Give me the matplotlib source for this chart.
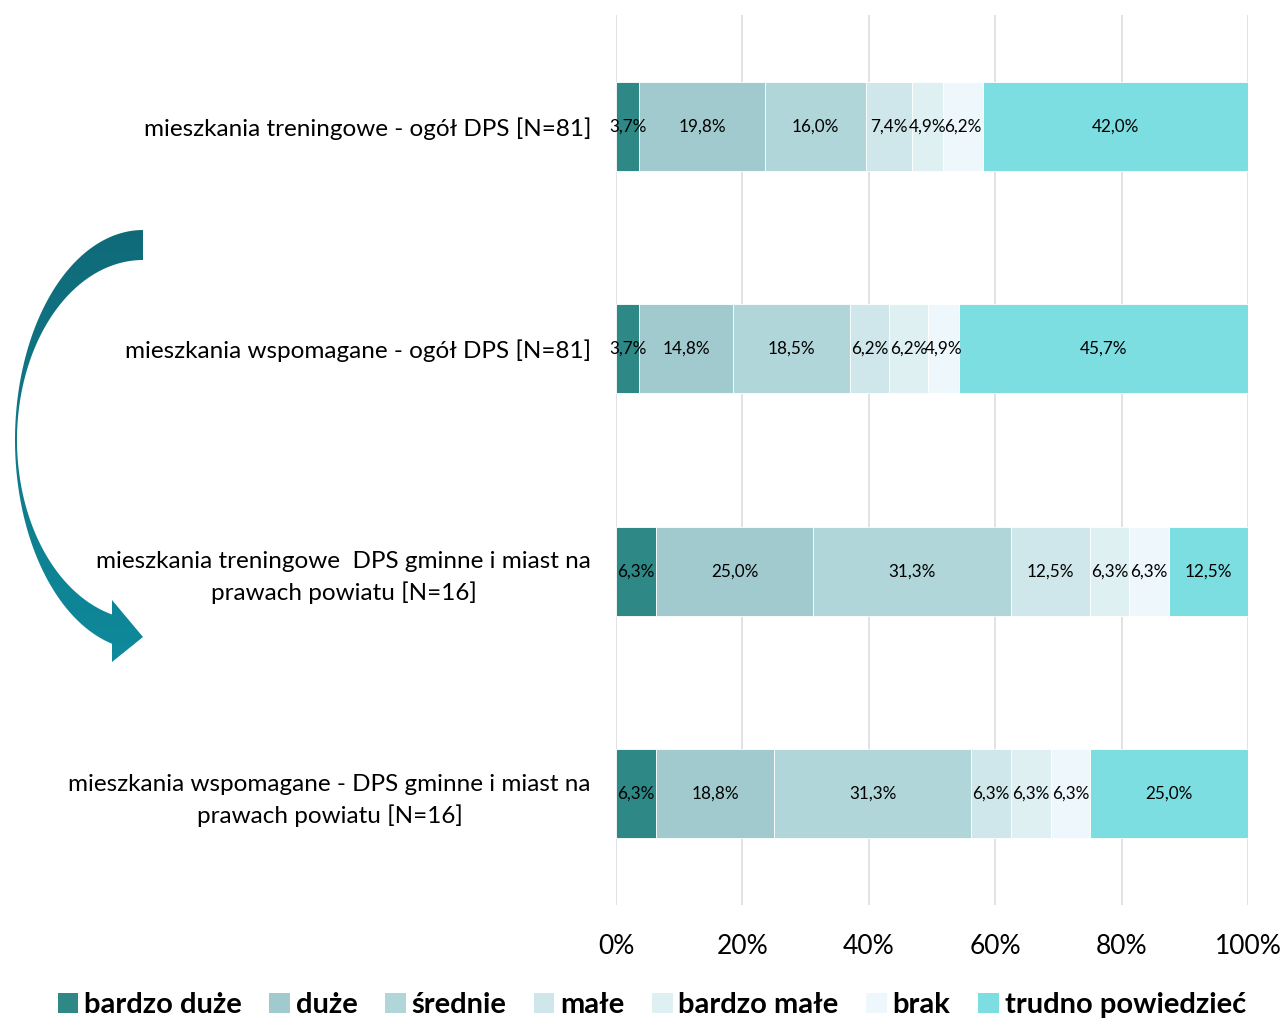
import numpy as np
import matplotlib
matplotlib.use('Agg')
import matplotlib.pyplot as plt
from matplotlib.patches import Polygon, Patch
from matplotlib.colors import LinearSegmentedColormap

plt.rcParams['font.family'] = ['Lato', 'DejaVu Sans']

categories = [
    'mieszkania treningowe - ogół DPS [N=81]',
    'mieszkania wspomagane - ogół DPS [N=81]',
    'mieszkania treningowe  DPS gminne i miast na\nprawach powiatu [N=16]',
    'mieszkania wspomagane - DPS gminne i miast na\nprawach powiatu [N=16]',
]
series_names = ['bardzo duże', 'duże', 'średnie', 'małe', 'bardzo małe', 'brak', 'trudno powiedzieć']
values = np.array([
    [3.7, 19.8, 16.0, 7.4, 4.9, 6.2, 42.0],
    [3.7, 14.8, 18.5, 6.2, 6.2, 4.9, 45.7],
    [6.3, 25.0, 31.3, 12.5, 6.3, 6.3, 12.5],
    [6.3, 18.8, 31.3, 6.3, 6.3, 6.3, 25.0],
])
xticks = [0, 20, 40, 60, 80, 100]
xtick_labels = ['0%', '20%', '40%', '60%', '80%', '100%']

colors = ['#2E8986', '#A0CACE', '#B0D6D9', '#CFE7EA', '#DEF0F2', '#EEF8FC', '#7DDEE2']

W, H = 1283, 1019
fig = plt.figure(figsize=(W / 100, H / 100), dpi=100)
ax = fig.add_axes([616 / W, 1 - 905 / H, (1248 - 616) / W, (905 - 15) / H])

# 100% stacked
shares = values / values.sum(axis=1, keepdims=True) * 100
y = np.arange(len(categories))
left = np.zeros(len(categories))
for j, name in enumerate(series_names):
    ax.barh(y, shares[:, j], left=left, height=0.4, color=colors[j],
            edgecolor='white', linewidth=0.6, label=name, zorder=3)
    for i in range(len(categories)):
        ax.text(left[i] + shares[i, j] / 2, y[i],
                f'{values[i, j]:.1f}'.replace('.', ',') + '%',
                ha='center', va='center', fontsize=12.3, color='black', zorder=4)
    left += shares[:, j]

ax.set_xlim(0, 100)
ax.set_ylim(3.5, -0.5)
ax.set_xticks(xticks)
ax.set_xticklabels(xtick_labels, fontsize=19)
ax.set_yticks(y)
ax.set_yticklabels(categories, fontsize=17.5, multialignment='center', linespacing=1.5)
for lab in ax.get_yticklabels():
    lab.set_y(lab.get_position()[1])
ax.tick_params(axis='both', length=0)
ax.tick_params(axis='x', pad=21)
ax.tick_params(axis='y', pad=18)
ax.grid(axis='x', color='#DCDDE3', linewidth=1.2, zorder=0)
for s in ax.spines.values():
    s.set_visible(False)

handles = [Patch(facecolor=c, edgecolor='none') for c in colors]
fig.legend(handles, series_names, loc='center', ncol=7, bbox_to_anchor=(0.508, 1 - 1005 / H),
           frameon=False, prop={'weight': 'bold', 'size': 21}, handlelength=0.7,
           handleheight=0.7, handletextpad=0.2, columnspacing=0.95)

# curved arrow decoration
ov = fig.add_axes([0, 0, 1, 1], zorder=-1)
ov.set_xlim(0, W)
ov.set_ylim(H, 0)
ov.axis('off')
cx, cy = 143, 440
th_o = np.linspace(0, np.pi - np.arcsin(31 / 128), 120)
th_i = np.linspace(0, np.pi - np.arcsin(31 / 126), 120)
outer = np.column_stack([cx - 128 * np.sin(th_o), cy - 210 * np.cos(th_o)])
inner = np.column_stack([cx - 126 * np.sin(th_i), cy - 180 * np.cos(th_i)])
head = np.array([[112, 662], [143, 637], [112, 600]])
pts = np.vstack([outer, head, inner[::-1]])
poly = Polygon(pts, closed=True, facecolor='none', edgecolor='none')
ov.add_patch(poly)
grad = np.linspace(0, 1, 256).reshape(-1, 1)
cmap = LinearSegmentedColormap.from_list('arr', ['#0E8A9C', '#106A78'])
im = ov.imshow(grad, extent=[10, 150, 670, 225], cmap=cmap, aspect='auto', origin='lower')
im.set_clip_path(poly)

fig.savefig('out.png', dpi=100)
